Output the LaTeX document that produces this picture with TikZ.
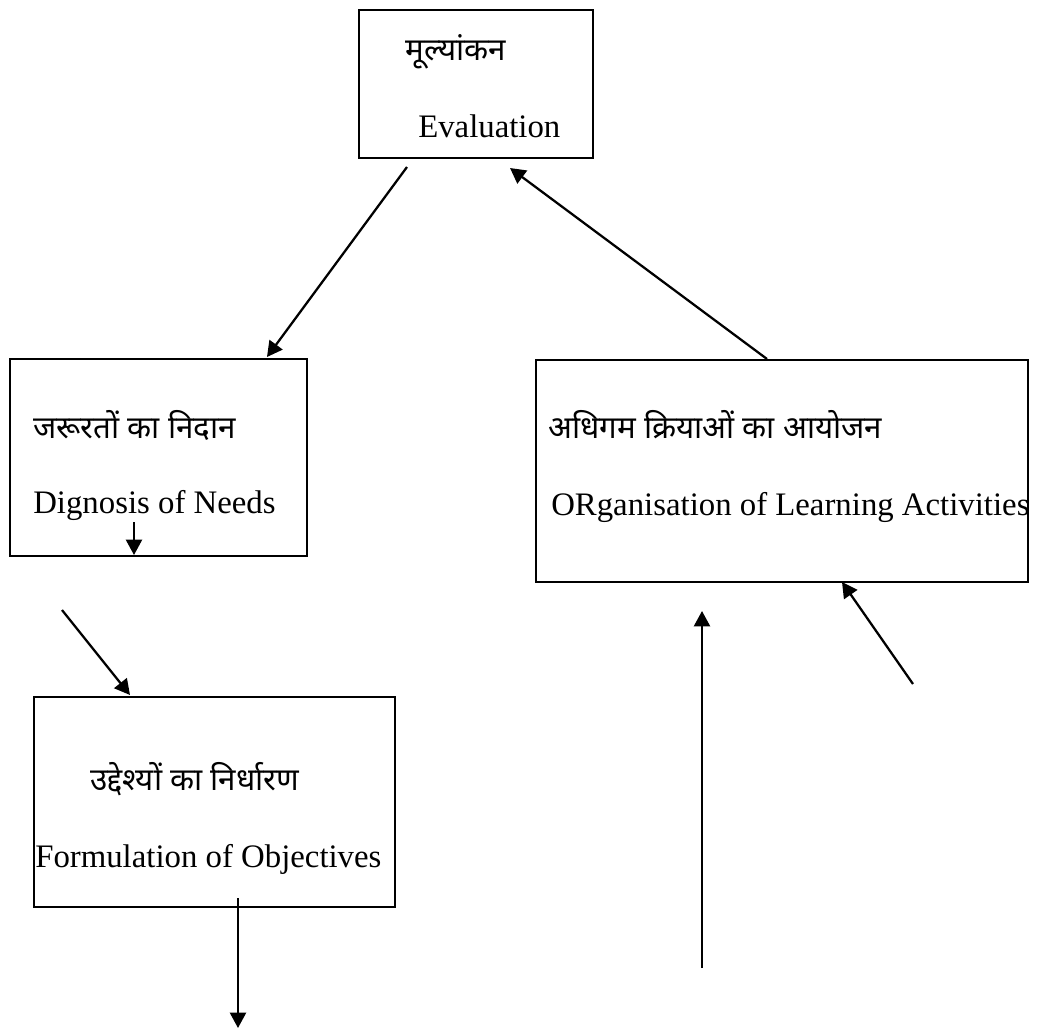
\documentclass[tikz,border=0pt]{standalone}
\usepackage{fontspec}
\setmainfont{Liberation Serif}
\newfontfamily\hindi[Script=Devanagari]{Noto Sans}
\usetikzlibrary{arrows.meta}
\tikzset{
  box/.style={draw, line width=1.7pt, anchor=north west, inner sep=0pt},
  lat/.style={anchor=base west, inner sep=0pt, font=\fontsize{24.6pt}{28pt}\selectfont},
  dev/.style={anchor=base west, inner sep=0pt, font=\hindi\fontsize{23.5pt}{28pt}\selectfont},
  arr/.style={line width=1.7pt, -{Triangle[length=11.5pt,width=12pt]}}
}
\begin{document}
\begin{tikzpicture}[x=0.75pt,y=-0.75pt]
\useasboundingbox (0,0) rectangle (1040,1029);
% boxes
\node[box, minimum width=175.5pt, minimum height=111pt] (eval) at (358,9) {};
\node[box, minimum width=222.75pt, minimum height=147.75pt] (dig) at (9,358) {};
\node[box, minimum width=270.75pt, minimum height=157.5pt] (form) at (33,696) {};
\node[box, minimum width=369pt, minimum height=166.5pt] (org) at (535,359) {};
% texts
\node[dev] (t1) at (405,60) {मूल्यांकन};
\node[lat] (t2) at (418,137) {Evaluation};
\node[dev] (t3) at (33,438) {जरूरतों का निदान};
\node[lat] (t4) at (33,513) {Dignosis of Needs};
\node[dev] (t5) at (90,790) {उद्देश्यों का निर्धारण};
\node[lat] (t6) at (35,867) {Formulation of Objectives};
\node[dev] (t7) at (548,438) {अधिगम क्रियाओं का आयोजन};
\node[lat] (t8) at (551,515) {ORganisation of Learning Activities};
% connector ends
\coordinate (a1s) at (407,167);
\coordinate (a1e) at (267,357);
\coordinate (a2s) at (767,359);
\coordinate (a2e) at (510,168);
\coordinate (a3s) at (134,522);
\coordinate (a3e) at (134,555);
\coordinate (a4s) at (62,610);
\coordinate (a4e) at (130,695);
\coordinate (a5s) at (238,898);
\coordinate (a5e) at (238,1028);
\coordinate (a6s) at (702,968);
\coordinate (a6e) at (702,611);
\coordinate (a7s) at (913,684);
\coordinate (a7e) at (842,582);
\draw[arr] (a1s) -- (a1e);
\draw[arr] (a2s) -- (a2e);
\draw[arr] (a3s) -- (a3e);
\draw[arr] (a4s) -- (a4e);
\draw[arr] (a5s) -- (a5e);
\draw[arr] (a6s) -- (a6e);
\draw[arr] (a7s) -- (a7e);
\end{tikzpicture}
\end{document}
